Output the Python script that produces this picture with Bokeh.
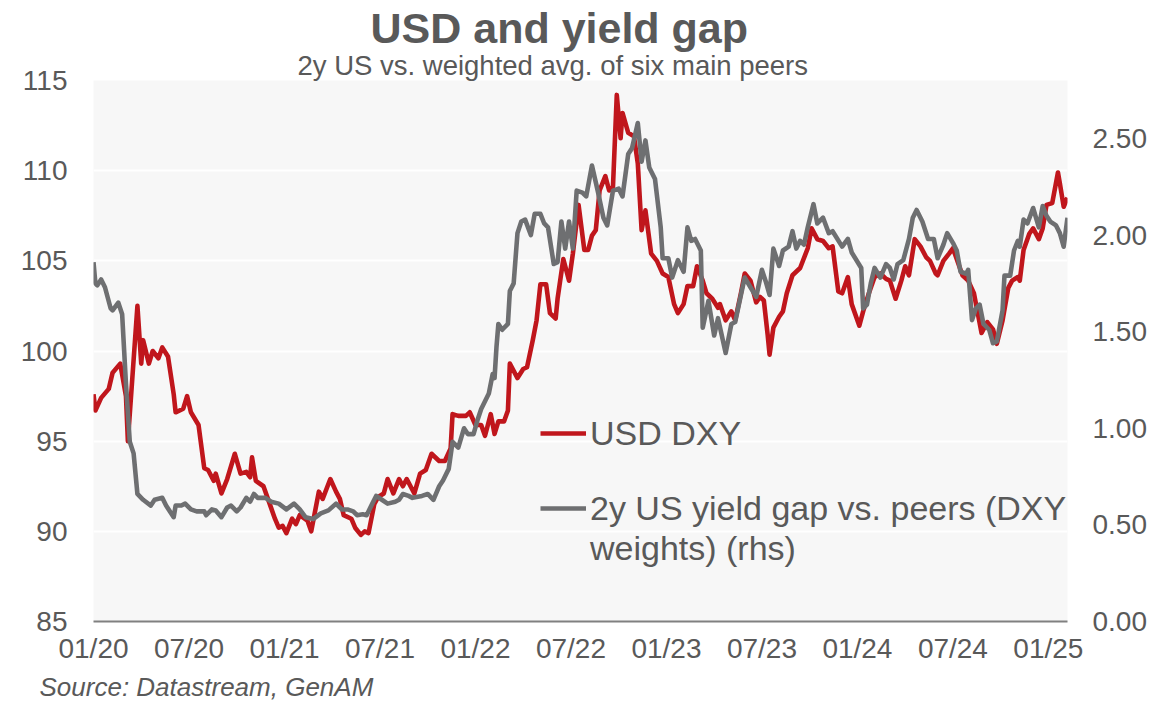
from bokeh.plotting import figure
from bokeh.models import (Range1d, LinearAxis, FixedTicker, NumeralTickFormatter,
                          Legend, LegendItem, Title)
from bokeh.embed import file_html
from bokeh.resources import INLINE

# ---- data (time in fractional years) ----
dxy_t = [2020.00, 2020.01, 2020.04, 2020.08, 2020.10, 2020.14, 2020.17, 2020.18, 2020.23, 2020.25,
         2020.26, 2020.29, 2020.31, 2020.34, 2020.36, 2020.39, 2020.42, 2020.43, 2020.47, 2020.49,
         2020.51, 2020.55, 2020.58, 2020.60, 2020.63, 2020.64, 2020.67, 2020.70, 2020.74, 2020.77,
         2020.80, 2020.82, 2020.83, 2020.85, 2020.89, 2020.93, 2020.95, 2020.97, 2020.99, 2021.01,
         2021.04, 2021.06, 2021.08, 2021.12, 2021.14, 2021.18, 2021.20, 2021.24, 2021.27, 2021.29,
         2021.31, 2021.35, 2021.37, 2021.40, 2021.42, 2021.44, 2021.47, 2021.49, 2021.52, 2021.54,
         2021.57, 2021.60, 2021.62, 2021.64, 2021.68, 2021.71, 2021.74, 2021.77, 2021.81, 2021.84,
         2021.87, 2021.88, 2021.91, 2021.95, 2021.97, 2022.00, 2022.03, 2022.05, 2022.08, 2022.10,
         2022.12, 2022.15, 2022.17, 2022.18, 2022.22, 2022.25, 2022.27, 2022.30, 2022.32, 2022.34,
         2022.37, 2022.39, 2022.42, 2022.43, 2022.46, 2022.49, 2022.51, 2022.54, 2022.57, 2022.59,
         2022.61, 2022.63, 2022.65, 2022.68, 2022.70, 2022.72, 2022.74, 2022.76, 2022.77, 2022.80,
         2022.83, 2022.85, 2022.87, 2022.89, 2022.92, 2022.95, 2022.98, 2023.01, 2023.04, 2023.06,
         2023.09, 2023.11, 2023.14, 2023.16, 2023.19, 2023.21, 2023.24, 2023.27, 2023.28, 2023.31,
         2023.34, 2023.36, 2023.39, 2023.41, 2023.44, 2023.47, 2023.49, 2023.51, 2023.53, 2023.54,
         2023.56, 2023.59, 2023.61, 2023.63, 2023.66, 2023.70, 2023.74, 2023.76, 2023.79, 2023.82,
         2023.85, 2023.87, 2023.90, 2023.92, 2023.95, 2023.97, 2024.01, 2024.03, 2024.06, 2024.09,
         2024.12, 2024.15, 2024.17, 2024.20, 2024.23, 2024.25, 2024.27, 2024.30, 2024.33, 2024.36,
         2024.38, 2024.41, 2024.42, 2024.45, 2024.48, 2024.50, 2024.53, 2024.55, 2024.58, 2024.61,
         2024.63, 2024.65, 2024.68, 2024.71, 2024.73, 2024.76, 2024.79, 2024.81, 2024.84, 2024.85,
         2024.87, 2024.90, 2024.92, 2024.95, 2024.97, 2024.99, 2025.02, 2025.05, 2025.06, 2025.08,
         2025.10]
dxy_v = [97.6, 96.7, 97.4, 97.9, 98.8, 99.3, 97.5, 95.0, 102.5, 99.3,
         100.6, 99.3, 100.0, 99.6, 100.2, 99.7, 97.6, 96.6, 96.8, 97.5,
         96.6, 95.9, 93.5, 93.4, 92.8, 93.2, 92.1, 92.9, 94.3, 93.2,
         93.3, 93.0, 94.1, 92.8, 92.5, 91.3, 90.7, 90.2, 90.3, 89.9,
         90.7, 90.4, 90.9, 90.6, 90.0, 92.2, 91.8, 92.9, 92.2, 91.8,
         90.9, 90.7, 90.2, 89.8, 90.0, 89.9, 91.5, 91.9, 92.1, 92.9,
         92.1, 92.9, 92.5, 92.9, 92.1, 93.2, 93.4, 94.3, 93.9, 93.9,
         94.6, 96.5, 96.4, 96.4, 96.6, 95.9, 95.9, 95.3, 96.5, 95.4,
         96.1, 96.1, 96.7, 99.3, 98.5, 99.0, 99.1, 100.6, 101.7, 103.7,
         103.7, 102.1, 101.8, 102.9, 105.1, 103.9, 105.4, 108.1, 105.6, 105.6,
         106.4, 106.7, 108.9, 109.7, 108.9, 109.1, 114.2, 111.8, 113.2, 112.1,
         111.9, 110.4, 106.7, 107.8, 105.4, 105.0, 104.3, 104.1, 102.6, 102.1,
         102.6, 103.6, 103.6, 104.7, 103.9, 103.2, 102.9, 102.4, 102.6, 101.7,
         102.2, 101.7, 103.2, 104.3, 103.9, 102.7, 103.0, 102.8, 100.9, 99.8,
         101.3, 101.9, 102.2, 103.2, 104.2, 104.6, 105.7, 106.8, 106.2, 106.1,
         105.7, 105.8, 103.3, 103.2, 104.1, 102.6, 101.4, 102.2, 103.2, 104.1,
         104.3, 104.0, 103.9, 102.9, 103.9, 104.7, 104.2, 106.2, 105.8, 105.2,
         105.0, 104.3, 104.2, 105.0, 105.4, 105.7, 104.8, 104.2, 103.9, 103.2,
         102.1, 101.0, 101.6, 101.2, 100.4, 101.7, 103.5, 103.9, 104.1, 103.9,
         105.6, 106.5, 106.8, 106.2, 106.8, 108.1, 108.2, 109.9, 109.3, 108.0,
         108.5]

gap_t = [2020.00, 2020.01, 2020.02, 2020.04, 2020.06, 2020.09, 2020.10, 2020.13, 2020.15, 2020.17,
         2020.19, 2020.21, 2020.23, 2020.26, 2020.30, 2020.32, 2020.36, 2020.38, 2020.42, 2020.43,
         2020.46, 2020.48, 2020.51, 2020.54, 2020.58, 2020.59, 2020.62, 2020.64, 2020.67, 2020.70,
         2020.72, 2020.75, 2020.77, 2020.80, 2020.82, 2020.84, 2020.86, 2020.90, 2020.93, 2020.97,
         2021.01, 2021.05, 2021.08, 2021.11, 2021.15, 2021.19, 2021.23, 2021.27, 2021.30, 2021.33,
         2021.36, 2021.38, 2021.41, 2021.43, 2021.46, 2021.48, 2021.51, 2021.54, 2021.58, 2021.60,
         2021.62, 2021.65, 2021.67, 2021.72, 2021.75, 2021.78, 2021.81, 2021.83, 2021.86, 2021.88,
         2021.91, 2021.94, 2021.96, 2021.99, 2022.01, 2022.03, 2022.05, 2022.07, 2022.09, 2022.10,
         2022.11, 2022.12, 2022.14, 2022.17, 2022.18, 2022.20, 2022.22, 2022.24, 2022.26, 2022.29,
         2022.31, 2022.34, 2022.36, 2022.38, 2022.41, 2022.43, 2022.45, 2022.47, 2022.49, 2022.51,
         2022.53, 2022.56, 2022.58, 2022.61, 2022.64, 2022.67, 2022.69, 2022.72, 2022.75, 2022.77,
         2022.80, 2022.82, 2022.85, 2022.87, 2022.89, 2022.91, 2022.94, 2022.97, 2022.98, 2023.01,
         2023.03, 2023.06, 2023.09, 2023.11, 2023.13, 2023.15, 2023.18, 2023.19, 2023.22, 2023.25,
         2023.27, 2023.31, 2023.34, 2023.36, 2023.39, 2023.41, 2023.44, 2023.47, 2023.50, 2023.52,
         2023.54, 2023.56, 2023.59, 2023.61, 2023.64, 2023.66, 2023.68, 2023.70, 2023.72, 2023.74,
         2023.77, 2023.79, 2023.82, 2023.85, 2023.87, 2023.92, 2023.95, 2023.97, 2024.02, 2024.03,
         2024.05, 2024.07, 2024.09, 2024.12, 2024.15, 2024.17, 2024.19, 2024.21, 2024.24, 2024.27,
         2024.29, 2024.31, 2024.34, 2024.37, 2024.40, 2024.42, 2024.45, 2024.47, 2024.50, 2024.52,
         2024.54, 2024.57, 2024.58, 2024.60, 2024.62, 2024.64, 2024.66, 2024.69, 2024.71, 2024.73,
         2024.76, 2024.77, 2024.80, 2024.82, 2024.84, 2024.85, 2024.87, 2024.89, 2024.92, 2024.95,
         2024.97, 2024.99, 2025.01, 2025.04, 2025.06, 2025.08, 2025.10]
gap_v = [1.86, 1.75, 1.74, 1.77, 1.73, 1.62, 1.61, 1.65, 1.59, 1.23,
         0.93, 0.87, 0.66, 0.63, 0.60, 0.63, 0.64, 0.60, 0.54, 0.60,
         0.60, 0.61, 0.58, 0.57, 0.57, 0.55, 0.58, 0.575, 0.54, 0.59,
         0.60, 0.57, 0.59, 0.64, 0.62, 0.66, 0.64, 0.64, 0.62, 0.61,
         0.58, 0.61, 0.58, 0.54, 0.53, 0.56, 0.575, 0.61, 0.58, 0.58,
         0.57, 0.55, 0.555, 0.55, 0.61, 0.65, 0.63, 0.61, 0.62, 0.63,
         0.66, 0.65, 0.64, 0.65, 0.66, 0.63, 0.70, 0.73, 0.79, 0.93,
         0.90, 1.00, 0.97, 0.97, 1.04, 1.10, 1.14, 1.18, 1.28, 1.26,
         1.42, 1.54, 1.51, 1.54, 1.71, 1.75, 2.01, 2.07, 2.08, 2.00,
         2.11, 2.11, 2.06, 2.04, 1.85, 1.86, 2.07, 1.93, 2.07, 1.93,
         2.23, 2.22, 2.20, 2.36, 2.23, 2.09, 2.05, 2.23, 2.24, 2.20,
         2.42, 2.45, 2.58, 2.38, 2.49, 2.35, 2.29, 2.04, 1.88, 1.88,
         1.78, 1.87, 1.81, 2.04, 1.97, 1.98, 1.92, 1.52, 1.66, 1.48,
         1.57, 1.39, 1.54, 1.55, 1.69, 1.78, 1.73, 1.68, 1.82, 1.76,
         1.69, 1.93, 1.84, 1.92, 1.94, 2.02, 1.93, 1.97, 1.95, 2.04,
         2.16, 2.06, 2.09, 2.01, 2.02, 1.94, 1.98, 1.91, 1.83, 1.62,
         1.64, 1.75, 1.83, 1.78, 1.85, 1.83, 1.77, 1.85, 1.87, 1.98,
         2.09, 2.13, 2.07, 1.98, 1.98, 1.88, 1.95, 2.01, 1.96, 1.92,
         1.81, 1.80, 1.82, 1.56, 1.62, 1.64, 1.54, 1.51, 1.44, 1.45,
         1.61, 1.79, 1.79, 1.92, 1.97, 1.94, 2.08, 2.06, 2.14, 2.04,
         2.15, 2.10, 2.07, 2.05, 2.01, 1.94, 2.09]

x_tick_labels = ["01/20", "07/20", "01/21", "07/21", "01/22", "07/22",
                 "01/23", "07/23", "01/24", "07/24", "01/25"]
left_ticks = [85, 90, 95, 100, 105, 110, 115]
right_ticks = [0.0, 0.5, 1.0, 1.5, 2.0, 2.5]

title_text = "USD and yield gap"
subtitle_text = "2y US vs. weighted avg. of six main peers"
source_text = "Source: Datastream, GenAM"
legend_lines = ["USD DXY", "2y US yield gap vs. peers (DXY", "weights) (rhs)"]

# ---- styling ----
RED = "#C0161C"
GREY = "#6E6F71"
TXT = "#595959"
FONT = "Liberation Sans"

x_ticks = [2020 + 0.5 * i for i in range(len(x_tick_labels))]

p = figure(width=1173, height=706, output_backend="svg", toolbar_location=None,
           x_range=Range1d(2020.0, 2025.10), y_range=Range1d(85, 115),
           min_border_left=93, min_border_right=106, min_border_top=80, min_border_bottom=85,
           background_fill_color="#F7F7F7", border_fill_color="white",
           outline_line_color=None, title=title_text)

p.extra_y_ranges = {"rhs": Range1d(0, 2.8)}

# main title (outermost)
p.title.text_font = FONT
p.title.text_font_size = "43px"
p.title.text_font_style = "bold"
p.title.text_color = TXT
p.title.align = "left"
p.title.offset = 277
p.title.standoff = -8

# subtitle (nearest the frame)
sub = Title(text=subtitle_text, text_font=FONT, text_font_size="27.5px",
            text_font_style="normal", text_color=TXT, align="left", offset=204,
            standoff=0)
p.add_layout(sub, "above")

# source note below the x axis
src = Title(text=source_text, text_font=FONT, text_font_size="26px",
            text_font_style="italic", text_color=TXT, align="left", offset=-54,
            standoff=7)
p.add_layout(src, "below")

# grids
p.xgrid.visible = False
p.ygrid.ticker = FixedTicker(ticks=left_ticks)
p.ygrid.grid_line_color = "white"
p.ygrid.grid_line_width = 2

# x axis
xa = p.xaxis[0]
xa.ticker = FixedTicker(ticks=x_ticks)
xa.major_label_overrides = {t: lab for t, lab in zip(x_ticks, x_tick_labels)}
xa.axis_line_color = "#808080"
xa.axis_line_width = 2
xa.major_tick_line_color = None
xa.minor_tick_line_color = None
xa.major_tick_out = 0
xa.major_label_standoff = 11
xa.major_label_text_font = FONT
xa.major_label_text_font_size = "28px"
xa.major_label_text_color = TXT

# left y axis
ya = p.yaxis[0]
ya.ticker = FixedTicker(ticks=left_ticks)
ya.axis_line_color = None
ya.major_tick_line_color = None
ya.minor_tick_line_color = None
ya.major_tick_out = 0
ya.major_label_standoff = 26
ya.major_label_text_font = FONT
ya.major_label_text_font_size = "28px"
ya.major_label_text_color = TXT

# right y axis
ra = LinearAxis(y_range_name="rhs", ticker=FixedTicker(ticks=right_ticks),
                formatter=NumeralTickFormatter(format="0.00"))
ra.axis_line_color = None
ra.major_tick_line_color = None
ra.minor_tick_line_color = None
ra.major_tick_out = 0
ra.major_label_standoff = 25
ra.major_label_text_font = FONT
ra.major_label_text_font_size = "28px"
ra.major_label_text_color = TXT
p.add_layout(ra, "right")

# lines
r1 = p.line(dxy_t, dxy_v, line_color=RED, line_width=4.6, line_join="round")
r2 = p.line(gap_t, gap_v, line_color=GREY, line_width=4.6, line_join="round",
            y_range_name="rhs")
r_blank = p.line([], [], line_alpha=0)  # empty renderer carrying the legend's wrapped line

leg_style = dict(orientation="vertical", background_fill_alpha=0, border_line_color=None,
                 padding=0, margin=0, spacing=0, glyph_width=46, glyph_height=40,
                 label_height=40, label_standoff=4, label_text_font=FONT,
                 label_text_font_size="34px", label_text_color=TXT)

leg_a = Legend(items=[LegendItem(label=legend_lines[0], renderers=[r1])],
               location=(447, 168), **leg_style)
leg_b = Legend(items=[LegendItem(label=legend_lines[1], renderers=[r2]),
                      LegendItem(label=legend_lines[2], renderers=[r_blank])],
               location=(447, 53), **leg_style)
p.add_layout(leg_a, "center")
p.add_layout(leg_b, "center")

open("out.html", "w").write(file_html(p, INLINE))
